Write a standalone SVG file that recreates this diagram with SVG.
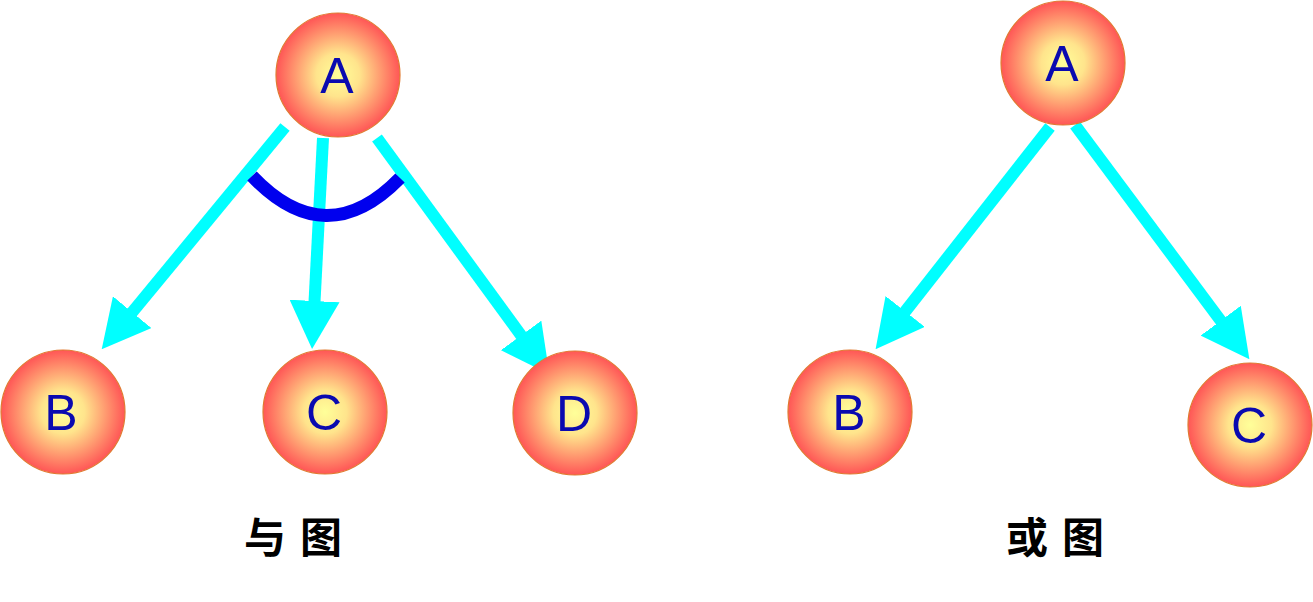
<svg xmlns="http://www.w3.org/2000/svg" width="1313" height="602" viewBox="0 0 1313 602">
<defs>
<radialGradient id="g" cx="50%" cy="50%" r="50%">
<stop offset="0" stop-color="#ffff99"/>
<stop offset="0.35" stop-color="#ffe48c"/>
<stop offset="1" stop-color="#ff5656"/>
</radialGradient>
<marker id="ah" viewBox="0 0 48 50" markerWidth="48" markerHeight="50" markerUnits="userSpaceOnUse" refX="1" refY="25" orient="auto">
<path d="M0,0 L48,25 L0,50 z" fill="#00ffff"/>
</marker>
</defs>
<style>
.n circle{fill:url(#g);stroke:#e07a30;stroke-width:1.2}
.n text{font-family:"Liberation Sans",Arial,sans-serif;font-size:50px;fill:#0a0ab0;text-anchor:middle}
.e line{stroke:#00ffff;stroke-width:12;marker-end:url(#ah)}
.lbl{font-family:"Noto Sans CJK SC",sans-serif;font-size:42px;font-weight:700;fill:#000;text-anchor:middle;letter-spacing:14px}
</style>
<g id="connectors" class="e">
<line x1="285" y1="127" x2="131.6" y2="313"/>
<line x1="323" y1="138" x2="314.5" y2="302"/>
<line x1="377" y1="138" x2="521.7" y2="336.2"/>
<line x1="1050" y1="127" x2="904.6" y2="312.2"/>
<line x1="1075" y1="125" x2="1221.3" y2="321.5"/>
<path id="and-arc" d="M252,176 Q326,254 400,178" fill="none" stroke="#0000ee" stroke-width="13"/>
</g>
<g id="L-A" class="n"><circle cx="338" cy="75" r="62"/><text x="337" y="93">A</text></g>
<g id="L-B" class="n"><circle cx="63" cy="412" r="62"/><text x="61" y="430">B</text></g>
<g id="L-C" class="n"><circle cx="325" cy="412" r="62"/><text x="324" y="430">C</text></g>
<g id="L-D" class="n"><circle cx="575" cy="413" r="62"/><text x="574" y="431">D</text></g>
<g id="R-A" class="n"><circle cx="1063" cy="63" r="62"/><text x="1062" y="81">A</text></g>
<g id="R-B" class="n"><circle cx="850" cy="412" r="62"/><text x="849" y="430">B</text></g>
<g id="R-C" class="n"><circle cx="1250" cy="425" r="62"/><text x="1249" y="443">C</text></g>
<text class="lbl" x="300" y="553">与图</text>
<text class="lbl" x="1062" y="553">或图</text>
</svg>
